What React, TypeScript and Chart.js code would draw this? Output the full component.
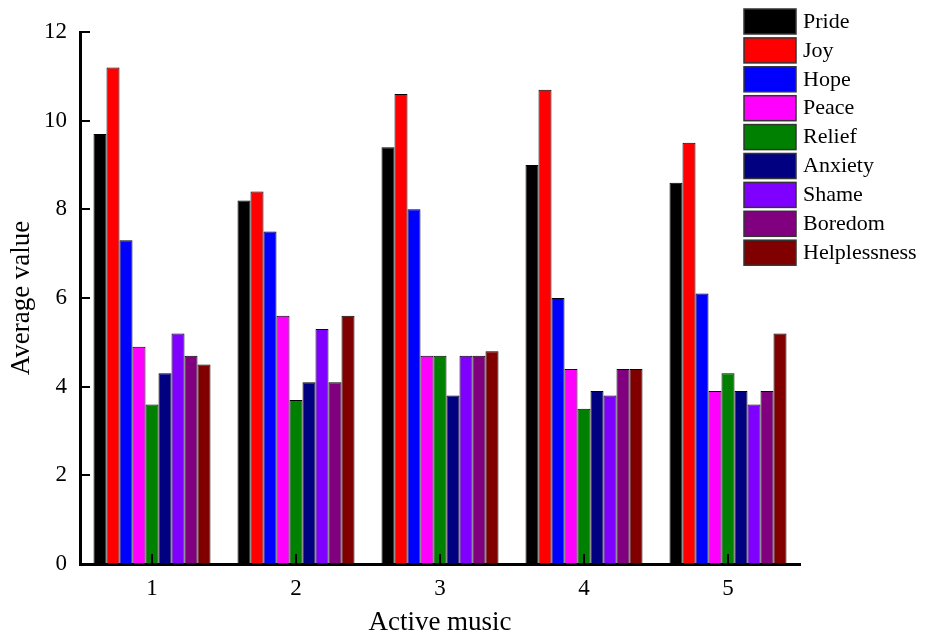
import React, { useEffect, useRef } from "react";
import { Chart, registerables } from "chart.js";
Chart.register(...registerables);

const categories = ["1", "2", "3", "4", "5"];
const seriesNames = ["Pride", "Joy", "Hope", "Peace", "Relief", "Anxiety", "Shame", "Boredom", "Helplessness"];
const seriesColors = ["#000000", "#ff0000", "#0000ff", "#ff00ff", "#008000", "#000080", "#8000ff", "#800080", "#800000"];
const pride = [9.7, 8.2, 9.4, 9.0, 8.6];
const joy = [11.2, 8.4, 10.6, 10.7, 9.5];
const hope = [7.3, 7.5, 8.0, 6.0, 6.1];
const peace = [4.9, 5.6, 4.7, 4.4, 3.9];
const relief = [3.6, 3.7, 4.7, 3.5, 4.3];
const anxiety = [4.3, 4.1, 3.8, 3.9, 3.9];
const shame = [5.2, 5.3, 4.7, 3.8, 3.6];
const boredom = [4.7, 4.1, 4.7, 4.4, 3.9];
const helplessness = [4.5, 5.6, 4.8, 4.4, 5.2];
const seriesValues = [pride, joy, hope, peace, relief, anxiety, shame, boredom, helplessness];
const yTicks = [0, 2, 4, 6, 8, 10, 12];

const FONT = "'Liberation Serif', 'Times New Roman', serif";

const innerTicksPlugin = {
  id: "innerTicks",
  afterDatasetsDraw(chart: any) {
    const ctx = chart.ctx;
    const x = chart.scales.x;
    const y = chart.scales.y;
    const area = chart.chartArea;
    ctx.save();
    ctx.strokeStyle = "#000";
    ctx.lineWidth = 2;
    ctx.beginPath();
    yTicks.forEach((v) => {
      const py = Math.round(y.getPixelForValue(v));
      ctx.moveTo(area.left, py);
      ctx.lineTo(area.left + 10, py);
    });
    categories.forEach((_, i) => {
      const px = Math.round(x.getPixelForValue(i));
      ctx.moveTo(px, area.bottom);
      ctx.lineTo(px, area.bottom - 10);
    });
    ctx.stroke();
    ctx.restore();
  },
};

const legendPlugin = {
  id: "customLegend",
  afterDraw(chart: any) {
    const ctx = chart.ctx;
    ctx.save();
    const bx = 744;
    const by = 9;
    const step = 28.9;
    chart.data.datasets.forEach((ds: any, i: number) => {
      const top = by + i * step;
      ctx.fillStyle = ds.backgroundColor;
      ctx.fillRect(bx, top, 52, 25);
      ctx.strokeStyle = "#333";
      ctx.lineWidth = 1.5;
      ctx.strokeRect(bx, top, 52, 25);
      ctx.fillStyle = "#000";
      ctx.font = `22px ${FONT}`;
      ctx.textBaseline = "middle";
      ctx.textAlign = "left";
      ctx.fillText(ds.label, bx + 59, top + 13);
    });
    ctx.restore();
  },
};

export default function App() {
  const ref = useRef<HTMLCanvasElement>(null);
  useEffect(() => {
    document.body.style.margin = "0";
    const chart = new Chart(ref.current!, {
      type: "bar",
      data: {
        labels: categories,
        datasets: seriesNames.map((name, i) => ({
          label: name,
          data: seriesValues[i],
          backgroundColor: seriesColors[i],
          borderColor: "#000",
          borderWidth: 1,
          categoryPercentage: 0.8125,
          barPercentage: 1,
        })),
      },
      options: {
        animation: false,
        responsive: false,
        layout: { padding: { top: 32, right: 125, left: 0, bottom: 0 } },
        plugins: { legend: { display: false }, tooltip: { enabled: false } },
        scales: {
          x: {
            grid: { display: true, drawOnChartArea: false, drawTicks: false },
            border: { display: true, color: "#000", width: 3 },
            ticks: { color: "#000", padding: 11, font: { family: FONT, size: 23 } },
            title: {
              display: true,
              text: "Active music",
              color: "#000",
              font: { family: FONT, size: 27, lineHeight: 0.75 },
              padding: { top: 0, bottom: 0 },
            },
            afterFit(scale: any) {
              scale.height = 69;
            },
          },
          y: {
            min: 0,
            max: 12,
            afterBuildTicks(scale: any) {
              scale.ticks = yTicks.map((v) => ({ value: v }));
            },
            grid: { display: true, drawOnChartArea: false, drawTicks: false },
            border: { display: true, color: "#000", width: 3 },
            ticks: { color: "#000", padding: 13, font: { family: FONT, size: 23 } },
            title: {
              display: true,
              text: "Average value",
              color: "#000",
              font: { family: FONT, size: 27, lineHeight: 0.75 },
              padding: { top: 12, bottom: 0 },
            },
            afterFit(scale: any) {
              scale.width = 80;
            },
          },
        },
      },
      plugins: [innerTicksPlugin, legendPlugin],
    });
    return () => chart.destroy();
  }, []);
  return (
    <div style={{ width: 925, height: 633 }}>
      <canvas ref={ref} width={925} height={633} />
    </div>
  );
}
